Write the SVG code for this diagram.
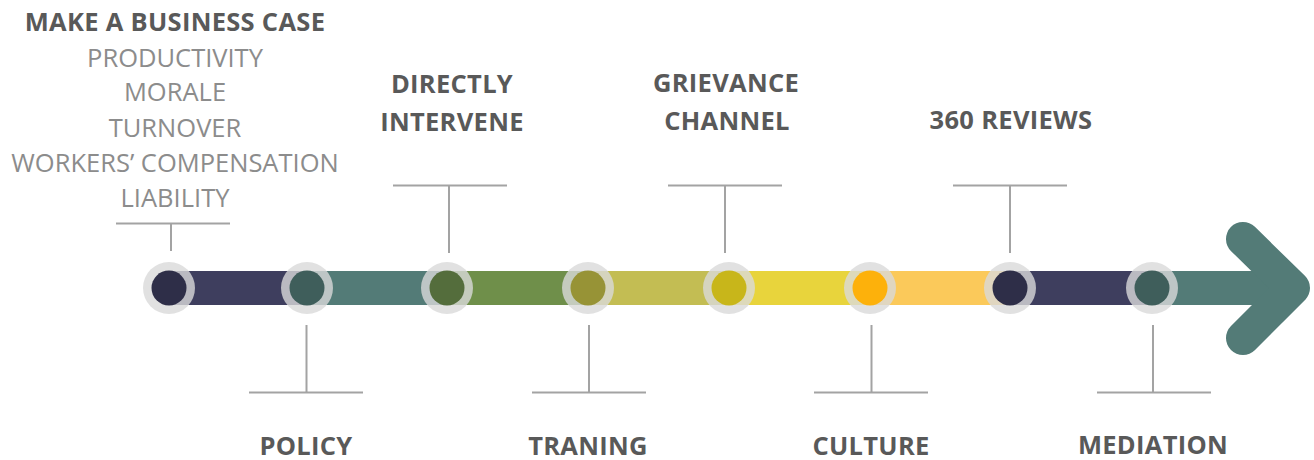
<svg xmlns="http://www.w3.org/2000/svg" width="1314" height="460" viewBox="0 0 1314 460">
  <style>
    .title { font-family: "Open Sans", "Liberation Sans", sans-serif; font-weight: 700; font-size: 25.5px; letter-spacing: 0.3px; fill: #595959; text-anchor: middle; }
    .sub { font-family: "Open Sans", "Liberation Sans", sans-serif; font-weight: 400; font-size: 25.5px; fill: #8c8c8c; text-anchor: middle; }
    .lead { stroke: #a3a3a3; stroke-width: 2; fill: none; }
    .halo { fill: #d9d9d9; fill-opacity: 0.8; }
  </style>

  <rect width="1314" height="460" fill="#ffffff"/>

  <!-- timeline bar segments -->
  <g id="timeline">
    <rect x="169" y="271" width="138" height="34" fill="#3e3e5e"/>
    <rect x="307" y="271" width="140" height="34" fill="#537b77"/>
    <rect x="447" y="271" width="141" height="34" fill="#6f8f4a"/>
    <rect x="588" y="271" width="141" height="34" fill="#c3bd53"/>
    <rect x="729" y="271" width="141" height="34" fill="#e8d43c"/>
    <rect x="870" y="271" width="140" height="34" fill="#fbc95a"/>
    <rect x="1010" y="271" width="142" height="34" fill="#3e3e5e"/>
    <rect x="1152" y="271" width="142" height="34" fill="#537b77"/>
    <polyline points="1243,239 1293,288 1243,338" fill="none" stroke="#537b77" stroke-width="34" stroke-linecap="round" stroke-linejoin="round"/>
  </g>

  <!-- leader lines -->
  <g id="connectors">
    <path class="lead" d="M116 223.5H230M171 223.5V251"/>
    <path class="lead" d="M393 185.5H507M449 185.5V253"/>
    <path class="lead" d="M668 185.5H782M725 185.5V253"/>
    <path class="lead" d="M953 185.5H1067M1010 185.5V253"/>
    <path class="lead" d="M249 392.5H363M306.5 325V392.5"/>
    <path class="lead" d="M532 392.5H646M589 325V392.5"/>
    <path class="lead" d="M814 392.5H928M871.5 325V392.5"/>
    <path class="lead" d="M1097 392.5H1211M1153 325V392.5"/>
  </g>

  <g id="node-business-case">
    <circle class="halo" cx="169" cy="288" r="26"/>
    <circle cx="169" cy="288" r="17.5" fill="#2e2e48"/>
    <text class="title" x="175" y="31">MAKE A BUSINESS CASE</text>
    <text class="sub" x="175" y="67">PRODUCTIVITY</text>
    <text class="sub" x="175" y="101">MORALE</text>
    <text class="sub" x="175" y="137">TURNOVER</text>
    <text class="sub" x="175" y="172">WORKERS’ COMPENSATION</text>
    <text class="sub" x="175" y="207">LIABILITY</text>
  </g>

  <g id="node-policy">
    <circle class="halo" cx="307" cy="288" r="26"/>
    <circle cx="307" cy="288" r="17.5" fill="#3f5e5b"/>
    <text class="title" x="306" y="455">POLICY</text>
  </g>

  <g id="node-intervene">
    <circle class="halo" cx="447" cy="288" r="26"/>
    <circle cx="447" cy="288" r="17.5" fill="#546d3c"/>
    <text class="title" x="452" y="93">DIRECTLY</text>
    <text class="title" x="452" y="131">INTERVENE</text>
  </g>

  <g id="node-training">
    <circle class="halo" cx="588" cy="288" r="26"/>
    <circle cx="588" cy="288" r="17.5" fill="#979336"/>
    <text class="title" x="588" y="455">TRANING</text>
  </g>

  <g id="node-grievance">
    <circle class="halo" cx="729" cy="288" r="26"/>
    <circle cx="729" cy="288" r="17.5" fill="#c8b61a"/>
    <text class="title" x="726" y="92">GRIEVANCE</text>
    <text class="title" x="727" y="130">CHANNEL</text>
  </g>

  <g id="node-culture">
    <circle class="halo" cx="870" cy="288" r="26"/>
    <circle cx="870" cy="288" r="17.5" fill="#fdb10b"/>
    <text class="title" x="871" y="455">CULTURE</text>
  </g>

  <g id="node-reviews">
    <circle class="halo" cx="1010" cy="288" r="26"/>
    <circle cx="1010" cy="288" r="17.5" fill="#2e2e48"/>
    <text class="title" x="1011" y="129">360 REVIEWS</text>
  </g>

  <g id="node-mediation">
    <circle class="halo" cx="1152" cy="288" r="26"/>
    <circle cx="1152" cy="288" r="17.5" fill="#3f5e5b"/>
    <text class="title" x="1153" y="454">MEDIATION</text>
  </g>
</svg>
